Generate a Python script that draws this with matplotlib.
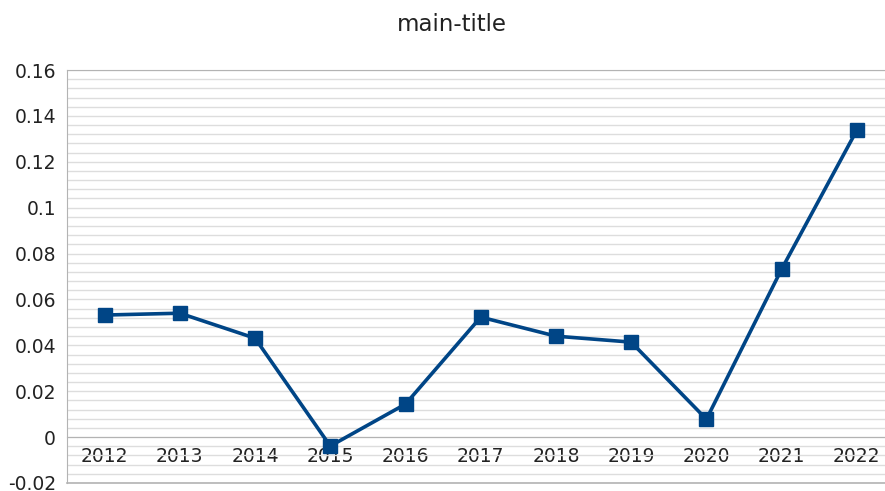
import numpy as np
import matplotlib.pyplot as plt
from matplotlib.ticker import MultipleLocator

plt.rcParams["font.family"] = ["DejaVu Sans"]

years = ["2012", "2013", "2014", "2015", "2016", "2017", "2018", "2019", "2020", "2021", "2022"]
values = [0.0532, 0.0540, 0.0431, -0.0039, 0.0144, 0.0523, 0.0440, 0.0414, 0.0078, 0.0732, 0.1338]
ytick_vals = [-0.02, 0, 0.02, 0.04, 0.06, 0.08, 0.1, 0.12, 0.14, 0.16]
ytick_labels = ["-0.02", "0", "0.02", "0.04", "0.06", "0.08", "0.1", "0.12", "0.14", "0.16"]

fig = plt.figure(figsize=(8.85, 4.91), dpi=100)
ax = fig.add_axes([0.0757, 0.0163, 0.935, 0.8411])

x = np.arange(len(years))
ax.plot(x, values, color="#004586", linewidth=2.6, marker="s", markersize=10.5,
        zorder=3, clip_on=False)

ax.set_xlim(-0.5, len(years) - 0.5)
ax.set_ylim(-0.02, 0.16)
ax.yaxis.set_minor_locator(MultipleLocator(0.004))
ax.set_yticks(ytick_vals)
ax.set_yticklabels(ytick_labels)

ax.grid(True, which="both", axis="y", color="#dddddd", linewidth=1)
ax.set_axisbelow(True)
# bottom frame line at -0.02
ax.axhline(-0.02, color="#b3b3b3", linewidth=1.2, clip_on=False, zorder=1)

ax.spines["bottom"].set_position(("data", 0))
ax.spines["bottom"].set_color("#b3b3b3")
ax.spines["left"].set_color("#b3b3b3")
ax.spines["top"].set_color("#b3b3b3")
ax.spines["right"].set_visible(False)

ax.set_xticks(x)
ax.set_xticklabels(years)
ax.tick_params(axis="x", length=0, pad=7, labelsize=13.5, colors="#222222")
ax.tick_params(axis="y", which="both", length=0, pad=8, labelsize=13.5, colors="#222222")

fig.text(0.511, 0.95, "main-title", ha="center", va="center", fontsize=16.5,
         color="#222222")

fig.savefig("out.png", dpi=100)
